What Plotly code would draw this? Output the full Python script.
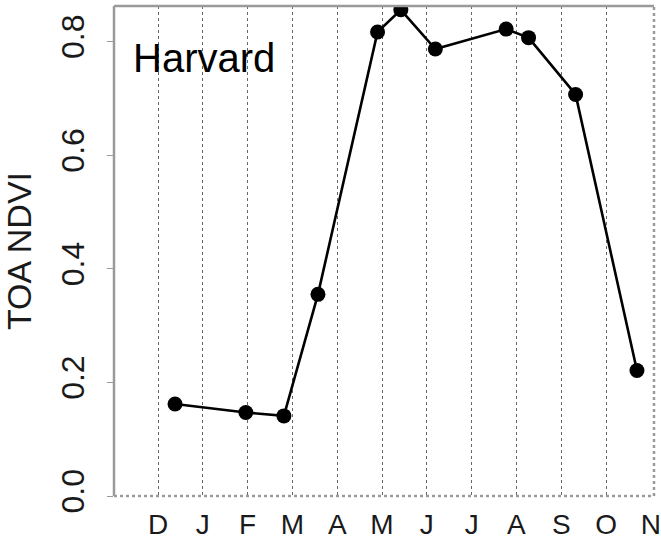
import plotly.graph_objects as go

# Monthly axis: December of the previous year through November
month_labels = ["D", "J", "F", "M", "A", "M", "J", "J", "A", "S", "O", "N"]
month_pos = list(range(len(month_labels)))
grid_pos = month_pos[:-1]  # the last month sits on the right frame

# Observation dates (fractional month index from December) and TOA NDVI values
obs_month = [0.38, 1.96, 2.81, 3.57, 4.90, 5.42, 6.19, 7.77, 8.27, 9.32, 10.69]
toa_ndvi = [0.162, 0.147, 0.141, 0.355, 0.817, 0.856, 0.787, 0.822, 0.807, 0.707, 0.221]

y_ticks = [0.0, 0.2, 0.4, 0.6, 0.8]
site_name = "Harvard"

FONT = "Liberation Sans, Arial, Helvetica, sans-serif"
TXT = "#1a1a1a"
FRAME = "#9a9a9a"

fig = go.Figure()

fig.add_trace(go.Scatter(
    x=obs_month, y=toa_ndvi,
    mode="lines+markers",
    line=dict(color="black", width=2.6),
    marker=dict(color="black", size=15),
    showlegend=False,
    xaxis="x", yaxis="y",
))

x_range = [-0.982, 11.07]
y_range = [0.0, 0.8627]

fig.update_layout(
    width=661, height=540,
    margin=dict(l=114, r=7, t=6, b=44, autoexpand=False),
    paper_bgcolor="white", plot_bgcolor="white",
    font=dict(family=FONT, color=TXT),
    xaxis=dict(
        range=x_range, tickmode="array", tickvals=month_pos, ticktext=month_labels,
        showgrid=False, zeroline=False, showline=False, ticks="",
        tickfont=dict(size=28, color=TXT), ticklabelstandoff=9,
        automargin=False,
    ),
    xaxis2=dict(
        range=x_range, overlaying="x", tickmode="array", tickvals=grid_pos,
        showgrid=True, griddash="dot", gridcolor="#666666", gridwidth=1,
        showticklabels=False, ticks="", zeroline=False, showline=False,
        automargin=False,
    ),
    yaxis=dict(
        range=y_range, tickmode="array", tickvals=y_ticks,
        tickformat=".1f", tickangle=-90,
        tickfont=dict(size=32, color=TXT),
        ticks="outside", ticklen=6, tickcolor=FRAME, tickwidth=1,
        showgrid=False, zeroline=False, showline=False,
        ticklabelstandoff=10,
        title=dict(text="TOA NDVI", font=dict(size=34, color=TXT), standoff=15),
        automargin=False,
    ),
    showlegend=False,
)

# Invisible trace anchoring the overlay grid axis
fig.add_trace(go.Scatter(x=[None], y=[None], xaxis="x2", yaxis="y",
                         showlegend=False, hoverinfo="skip"))

# Plot frame: solid left/top edges, dotted right/bottom edges
frame = [
    dict(x0=0, x1=0, y0=0, y1=1, dash="solid", width=2.5),
    dict(x0=0, x1=1, y0=1, y1=1, dash="solid", width=2.5),
    dict(x0=1, x1=1, y0=0, y1=1, dash="dot", width=2.5),
    dict(x0=0, x1=1, y0=0, y1=0, dash="dot", width=2.5),
]
for s in frame:
    fig.add_shape(type="line", xref="paper", yref="paper",
                  x0=s["x0"], x1=s["x1"], y0=s["y0"], y1=s["y1"],
                  line=dict(color=FRAME, width=s["width"], dash=s["dash"]),
                  layer="above")

fig.add_annotation(
    text=site_name, xref="paper", yref="y", x=0.032, y=0.772,
    xanchor="left", yanchor="middle", showarrow=False,
    font=dict(size=40, color="black", family=FONT),
)

fig.write_html("out.html")
